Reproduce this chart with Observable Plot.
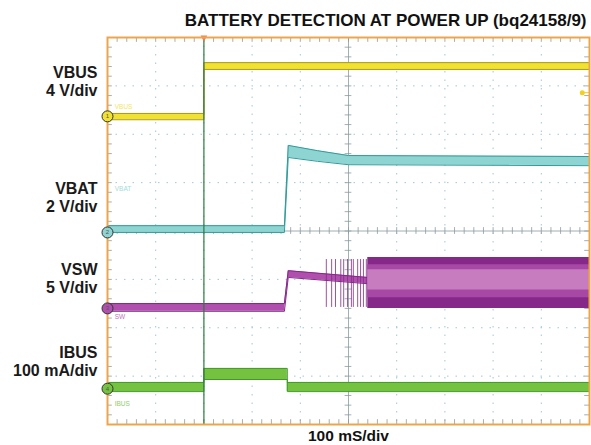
<!DOCTYPE html>
<html><head><meta charset="utf-8">
<script src="https://cdn.jsdelivr.net/npm/d3@7"></script>
<script src="https://cdn.jsdelivr.net/npm/@observablehq/plot@0.6"></script>
<style>body{margin:0;background:#fff} svg{display:block}</style>
</head><body><div id="chart"></div>
<script>
// ---- text ----
const title = "BATTERY DETECTION AT POWER UP (bq24158/9)";
const xLabel = "100 mS/div";
const channelNames = ["VBUS", "VBAT", "VSW", "IBUS"];
const channelScales = ["4 V/div", "2 V/div", "5 V/div", "100 mA/div"];
const channelLabelY = [7.10, 4.69, 3.03, 1.31];      // screen divisions
const groundLevels = [6.37, 3.97, 2.40, 0.74];       // channel reference markers
const groundNums = ["1", "2", "3", "4"];
const scopeTags = ["VBUS", "VBAT", "SW", "IBUS"];
const scopeTagY = [6.57, 4.88, 2.23, 0.43];

// ---- traces: time (ms), band low / high (screen divisions) ----
const vbusT  = [0, 200, 200, 1000];
const vbusLo = [6.30, 6.30, 7.34, 7.34];
const vbusHi = [6.43, 6.43, 7.48, 7.48];

const vbatT  = [0, 367, 375, 436, 500, 1000];
const vbatLo = [3.97, 3.97, 5.52, 5.44, 5.37, 5.35];
const vbatHi = [4.11, 4.11, 5.77, 5.66, 5.56, 5.54];

const vswT  = [0, 367, 375, 540];
const vswLo = [2.34, 2.34, 3.04, 2.91];
const vswHi = [2.50, 2.50, 3.18, 3.04];
const vswSpikes = [454, 465, 473, 484, 490, 498, 506, 510, 519, 525, 531, 537];
const vswSpikeLo = 2.42, vswSpikeHi = 3.41;
const vswSwT = [540, 1000];
const vswSwLo = [2.40, 2.40];
const vswSwHi = [3.45, 3.45];
const vswSwMidLo = [2.62, 2.62];
const vswSwMidHi = [3.30, 3.30];
const vswSwCoreLo = [2.78, 2.78];
const vswSwCoreHi = [3.20, 3.20];

const ibusT  = [0, 200, 200, 373, 373, 1000];
const ibusLo = [0.68, 0.68, 0.93, 0.93, 0.68, 0.68];
const ibusHi = [0.87, 0.87, 1.16, 1.16, 0.87, 0.87];

const triggerT = 200;
const trigLevel = {t: 985, y: 6.86};

// ---- colours ----
const C = {
  frame: "#eea54a", grid: "#9fc6da", axis: "#8a9aa0",
  vbus: "#f1e232", vbusEdge: "#a89a18",
  vbat: "#8ed4d2", vbatEdge: "#2f9c9a",
  vsw: "#b04fae", vswEdge: "#86288a", vswMid: "#a648a4", vswCore: "#c77cc0",
  ibus: "#74c240", ibusEdge: "#3f9a2a",
  trig: "#2c7a3c"
};

const zip = (t, lo, hi) => t.map((d, i) => ({t: d, lo: lo[i], hi: hi[i]}));
const vbus = zip(vbusT, vbusLo, vbusHi);
const vbat = zip(vbatT, vbatLo, vbatHi);
const vsw = zip(vswT, vswLo, vswHi);
const vswSw = zip(vswSwT, vswSwLo, vswSwHi);
const vswSwMid = zip(vswSwT, vswSwMidLo, vswSwMidHi);
const vswSwCore = zip(vswSwT, vswSwCoreLo, vswSwCoreHi);
const ibus = zip(ibusT, ibusLo, ibusHi);

const labels = channelNames.map((n, i) => ({y: channelLabelY[i], text: n + "\n" + channelScales[i]}));
const grounds = groundLevels.map((y, i) => ({y, n: groundNums[i], c: [C.vbus, C.vbat, C.vsw, C.ibus][i]}));
const tags = scopeTags.map((s, i) => ({y: scopeTagY[i], s, c: [C.vbus, C.vbat, C.vsw, C.ibus][i]}));

const divX = d3.range(100, 1000, 100).filter(d => d !== 500);
const divY = d3.range(1, 8).filter(d => d !== 4);
const minorX = d3.range(20, 1000, 20);
const minorY = d3.range(0.2, 8, 0.2);

const band = (data, fill, edge) => [
  Plot.areaY(data, {x: "t", y1: "lo", y2: "hi", fill, curve: "linear"}),
  Plot.lineY(data, {x: "t", y: "hi", stroke: edge, strokeWidth: 1, curve: "linear"}),
  Plot.lineY(data, {x: "t", y: "lo", stroke: edge, strokeWidth: 1, curve: "linear"})
];

const chart = Plot.plot({
  width: 591, height: 445,
  marginLeft: 107, marginRight: 2, marginTop: 37, marginBottom: 21,
  x: {domain: [0, 1000], axis: null},
  y: {domain: [0, 8], axis: null},
  style: {fontFamily: "Arial, 'Liberation Sans', sans-serif", background: "#fff"},
  marks: [
    // dotted graticule
    Plot.ruleX(divX, {stroke: C.grid, strokeDasharray: "1.5,7", strokeWidth: 1}),
    Plot.ruleY(divY, {stroke: C.grid, strokeDasharray: "1.5,7", strokeWidth: 1}),
    // centre axes + minor ticks
    Plot.ruleX([500], {stroke: C.axis, strokeWidth: 0.8}),
    Plot.ruleY([4], {stroke: C.axis, strokeWidth: 0.8}),
    Plot.ruleX(minorX, {x: d => d, y1: 3.93, y2: 4.07, stroke: C.axis, strokeWidth: 0.8}),
    Plot.ruleY(minorY, {y: d => d, x1: 493, x2: 507, stroke: C.axis, strokeWidth: 0.8}),
    // edge ticks
    Plot.ruleX(minorX, {x: d => d, y1: 8, y2: 7.9, stroke: C.axis, strokeWidth: 0.8}),
    Plot.ruleX(minorX, {x: d => d, y1: 0, y2: 0.1, stroke: C.axis, strokeWidth: 0.8}),
    Plot.ruleY(minorY, {y: d => d, x1: 0, x2: 10, stroke: C.axis, strokeWidth: 0.8}),
    Plot.ruleY(minorY, {y: d => d, x1: 990, x2: 1000, stroke: C.axis, strokeWidth: 0.8}),
    // traces
    ...band(vbus, C.vbus, C.vbusEdge),
    ...band(vbat, C.vbat, C.vbatEdge),
    ...band(vsw, C.vsw, C.vswEdge),
    Plot.ruleX(vswSpikes, {x: d => d, y1: vswSpikeLo, y2: vswSpikeHi, stroke: C.vswEdge, strokeWidth: 1, strokeOpacity: 0.8}),
    Plot.areaY(vswSw, {x: "t", y1: "lo", y2: "hi", fill: C.vswEdge}),
    Plot.areaY(vswSwMid, {x: "t", y1: "lo", y2: "hi", fill: C.vswMid}),
    Plot.areaY(vswSwCore, {x: "t", y1: "lo", y2: "hi", fill: C.vswCore}),
    ...band(ibus, C.ibus, C.ibusEdge),
    // trigger line
    Plot.ruleX([triggerT], {stroke: C.trig, strokeWidth: 1.2}),
    Plot.dot([triggerT], {x: d => d, y: 8, symbol: "triangle", r: 2.5, fill: "#f27a5a", rotate: 180}),
    Plot.dot([trigLevel], {x: "t", y: "y", r: 2.5, fill: "#f2d020"}),
    Plot.ruleY([trigLevel], {y: "y", x1: "t", x2: 1000, stroke: "#f2d020", strokeWidth: 1}),
    // frame
    Plot.frame({stroke: C.frame, strokeWidth: 2}),
    // ground reference markers
    Plot.dot(grounds, {x: 0, y: "y", r: 5.5, fill: "c", stroke: "#333", strokeWidth: 1}),
    Plot.text(grounds, {x: 0, y: "y", text: "n", fontSize: 6, fill: "#555"}),
    // small scope tags
    Plot.text(tags, {x: 15, y: "y", text: "s", fill: "c", fontSize: 6.5, textAnchor: "start", opacity: 0.8}),
    // channel labels
    Plot.text(labels, {x: 0, y: "y", text: "text", dx: -10, textAnchor: "end", fontSize: 16, fontWeight: "bold", lineHeight: 1.12, fill: "#1a1a1a"}),
    // title and x label
    Plot.text([title], {frameAnchor: "top-right", lineAnchor: "middle", dx: -3, dy: -17, textAnchor: "end", fontSize: 17, fontWeight: "bold", fill: "#111"}),
    Plot.text([xLabel], {frameAnchor: "bottom", lineAnchor: "middle", dy: 12, fontSize: 15.5, fontWeight: "bold", fill: "#111"})
  ]
});
document.getElementById("chart").append(chart);
</script>
</body></html>
